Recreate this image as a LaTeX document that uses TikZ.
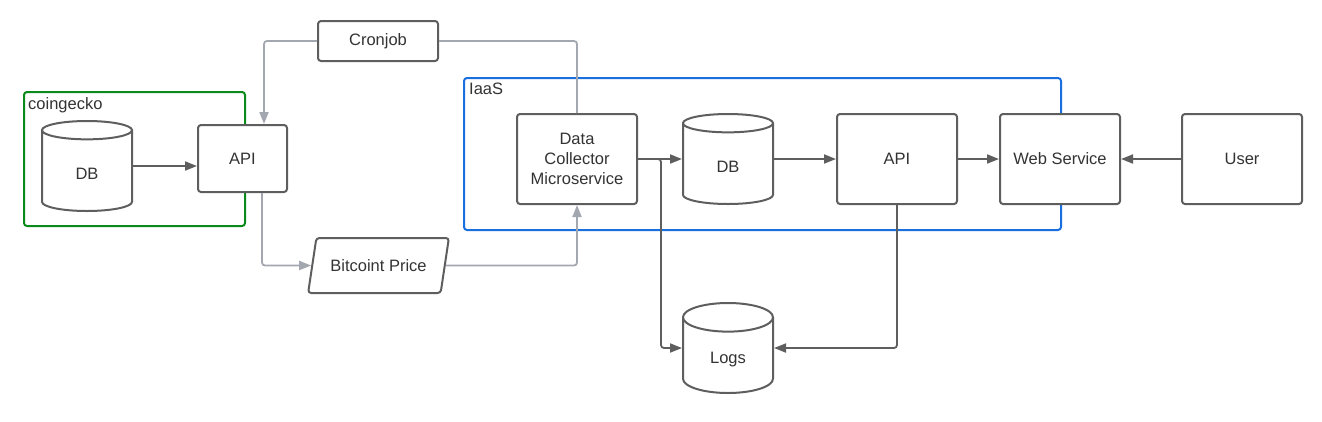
\documentclass[tikz,border=0pt]{standalone}
\usepackage{fontspec}
\setmainfont{Liberation Sans}
\usetikzlibrary{arrows.meta,positioning,shapes.geometric}
\definecolor{edgegray}{HTML}{5E5E5E}
\definecolor{linkgray}{HTML}{A3A8B0}
\definecolor{txtgray}{HTML}{333333}
\definecolor{geckogreen}{HTML}{0A8A1A}
\definecolor{iaasblue}{HTML}{1A6FDF}
\tikzset{
  box/.style={draw=edgegray,line width=2pt,rounded corners=3pt,fill=white,
    align=center,inner sep=2pt,minimum width=120pt,minimum height=90pt},
  dbase/.style={cylinder,shape border rotate=90,draw=edgegray,line width=2pt,
    fill=white,aspect=0.8,minimum width=90pt,minimum height=90pt,inner sep=0pt,
    text height=16pt,text depth=0pt,anchor=shape center},
  flow/.style={edgegray,line width=1.8pt,rounded corners=3pt},
  feed/.style={linkgray,line width=1.8pt,rounded corners=3pt},
  frame/.style={line width=2pt,rounded corners=3pt},
}

\begin{document}
\begin{tikzpicture}[x=1pt,y=-1pt,>={Triangle[length=12pt,width=9pt]},
    font=\fontsize{16.5}{20}\selectfont,text=txtgray]
  \useasboundingbox (0,0) rectangle (1322,421);
  % groups
  \draw[frame,geckogreen] (24,92) rectangle (245,226);
  \node[anchor=north west,inner sep=0pt] (geckolbl) at (28,97) {coingecko};
  \draw[frame,iaasblue] (464,78) rectangle (1061,230);
  \node[anchor=north west,inner sep=0pt] (iaaslbl) at (469,83) {IaaS};

  % coingecko side
  \node[dbase] (gdb) at (87,166) {DB};
  \node[box,minimum width=89pt,minimum height=67pt] (gapi) at (242.5,158.5) {API};
  \node[box,minimum width=120pt,minimum height=40pt] (cron) at (378,41) {Cronjob};
  \node[trapezium,trapezium left angle=70,trapezium right angle=110,
    trapezium stretches=true,draw=edgegray,line width=2pt,rounded corners=3pt,
    minimum width=141pt,minimum height=55pt] (price) at (378.5,265.5) {Bitcoint Price};

  % IaaS side
  \node[box] (collector) at (577,159) {Data\\Collector\\Microservice};
  \node[dbase] (idb) at (728,159) {DB};
  \node[box] (iapi) at (897,159) {API};
  \node[box] (web) at (1060,159) {Web Service};
  \node[box] (user) at (1242,159) {User};
  \node[dbase] (logs) at (728,348) {Logs};

  % connectors
  \draw[flow,->] (gdb.east |- gdb.shape center) -- (gapi.west |- gdb.shape center);
  \draw[feed,->] (cron.west) -| ([xshift=21.5pt]gapi.north);
  \draw[feed] (cron.east) -| (collector.north);
  \draw[feed,->] ([xshift=19.5pt]gapi.south) |- (price.west);
  \draw[feed,->] (price.east) -| (collector.south);
  \draw[flow,->] (collector.east) -- (idb.west |- collector.east);
  \draw[flow,->] (idb.east |- idb.shape center) -- (iapi.west |- idb.shape center);
  \draw[flow,->] (iapi) -- (web);
  \draw[flow,->] (user) -- (web);
  \draw[flow,->] (collector.east) -- ++(23,0) |- (logs.west |- logs.shape center);
  \draw[flow,->] (iapi.south) |- (logs.east |- logs.shape center);
\end{tikzpicture}
\end{document}
